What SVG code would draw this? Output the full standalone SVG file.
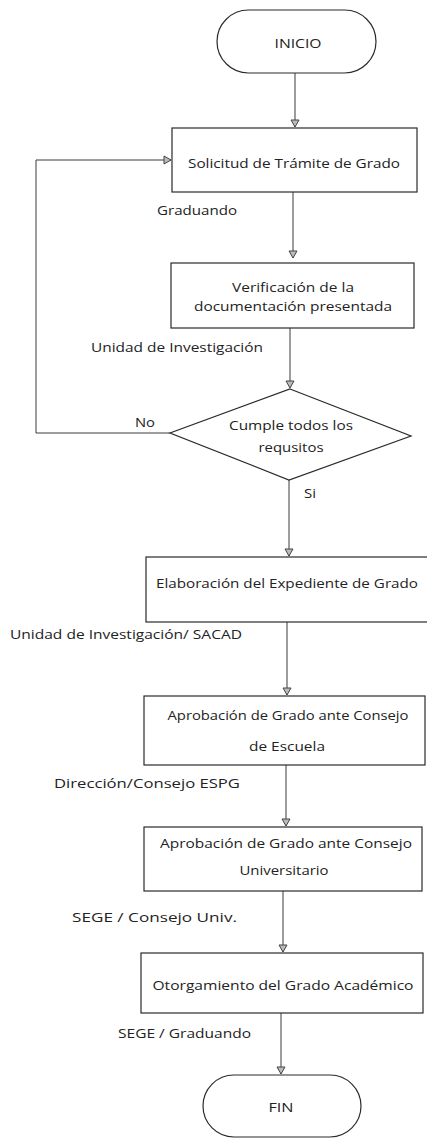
<svg xmlns="http://www.w3.org/2000/svg" width="427" height="1138" viewBox="0 0 427 1138">
<style>
.s{fill:#fff;stroke:#2a2a2a;stroke-width:1.2}
.c{fill:none;stroke:#3a3a3a;stroke-width:1}
text{font-family:"Open Sans","Liberation Sans",sans-serif;font-size:12px;fill:#222}
.m{text-anchor:middle}
</style>
<defs>
<marker id="ah" markerWidth="10" markerHeight="10" refX="8" refY="5" orient="auto" markerUnits="userSpaceOnUse">
<path d="M1,1 L8,5 L1,9 Z" fill="#bbb" stroke="#444" stroke-width="1"/>
</marker>
</defs>
<rect width="427" height="1138" fill="#fff"/>
<g id="connectors">
<path class="c" d="M295,73 L295,127" marker-end="url(#ah)"/>
<path class="c" d="M293,192 L293,258" marker-end="url(#ah)"/>
<path class="c" d="M290,328 L290,388" marker-end="url(#ah)"/>
<path class="c" d="M289,480 L289,556" marker-end="url(#ah)"/>
<path class="c" d="M287,622 L287,695" marker-end="url(#ah)"/>
<path class="c" d="M286,765 L286,826" marker-end="url(#ah)"/>
<path class="c" d="M283,891 L283,952" marker-end="url(#ah)"/>
<path class="c" d="M281,1013 L281,1074" marker-end="url(#ah)"/>
<path class="c" d="M170,433 L36,433 L36,160 L171,160" marker-end="url(#ah)"/>
<text x="135" y="427" textLength="20" lengthAdjust="spacingAndGlyphs">No</text>
<text x="304" y="498" textLength="12" lengthAdjust="spacingAndGlyphs">Si</text>
<text x="157" y="215" textLength="80" lengthAdjust="spacingAndGlyphs">Graduando</text>
<text x="91" y="352" textLength="172" lengthAdjust="spacingAndGlyphs">Unidad de Investigación</text>
<text x="10" y="639" textLength="232" lengthAdjust="spacingAndGlyphs">Unidad de Investigación/ SACAD</text>
<text x="54" y="788" textLength="186" lengthAdjust="spacingAndGlyphs">Dirección/Consejo ESPG</text>
<text x="72" y="922" textLength="165" lengthAdjust="spacingAndGlyphs">SEGE / Consejo Univ.</text>
<text x="118" y="1038" textLength="133" lengthAdjust="spacingAndGlyphs">SEGE / Graduando</text>
</g>
<g id="inicio">
<rect class="s" x="217" y="10" width="159" height="63" rx="31.5"/>
<text class="m" x="298" y="48" textLength="47" lengthAdjust="spacingAndGlyphs">INICIO</text>
</g>
<g id="solicitud">
<rect class="s" x="172" y="128" width="245" height="64"/>
<text class="m" x="294" y="168" textLength="212" lengthAdjust="spacingAndGlyphs">Solicitud de Trámite de Grado</text>
</g>
<g id="verificacion">
<rect class="s" x="171" y="263" width="243" height="65"/>
<text class="m" x="293" y="292" textLength="122" lengthAdjust="spacingAndGlyphs">Verificación de la</text>
<text class="m" x="293" y="311" textLength="198" lengthAdjust="spacingAndGlyphs">documentación presentada</text>
</g>
<g id="cumple">
<polygon class="s" points="290,389 411,436 289,480 170,433"/>
<text class="m" x="291" y="430" textLength="124" lengthAdjust="spacingAndGlyphs">Cumple todos los</text>
<text class="m" x="291" y="452" textLength="65" lengthAdjust="spacingAndGlyphs">requsitos</text>
</g>
<g id="elaboracion">
<rect class="s" x="146" y="557" width="283" height="65"/>
<text class="m" x="287" y="588" textLength="262" lengthAdjust="spacingAndGlyphs">Elaboración del Expediente de Grado</text>
</g>
<g id="aprobacion-escuela">
<rect class="s" x="144" y="696" width="281" height="69"/>
<text class="m" x="288" y="720" textLength="241" lengthAdjust="spacingAndGlyphs">Aprobación de Grado ante Consejo</text>
<text class="m" x="287" y="751" textLength="76" lengthAdjust="spacingAndGlyphs">de Escuela</text>
</g>
<g id="aprobacion-universitario">
<rect class="s" x="144" y="827" width="278" height="64"/>
<text class="m" x="286" y="848" textLength="252" lengthAdjust="spacingAndGlyphs">Aprobación de Grado ante Consejo</text>
<text class="m" x="284" y="875" textLength="89" lengthAdjust="spacingAndGlyphs">Universitario</text>
</g>
<g id="otorgamiento">
<rect class="s" x="141" y="953" width="282" height="60"/>
<text class="m" x="283" y="990" textLength="261" lengthAdjust="spacingAndGlyphs">Otorgamiento del Grado Académico</text>
</g>
<g id="fin">
<rect class="s" x="203" y="1075" width="158" height="62" rx="31"/>
<text class="m" x="281" y="1112" textLength="25" lengthAdjust="spacingAndGlyphs">FIN</text>
</g>
</svg>
